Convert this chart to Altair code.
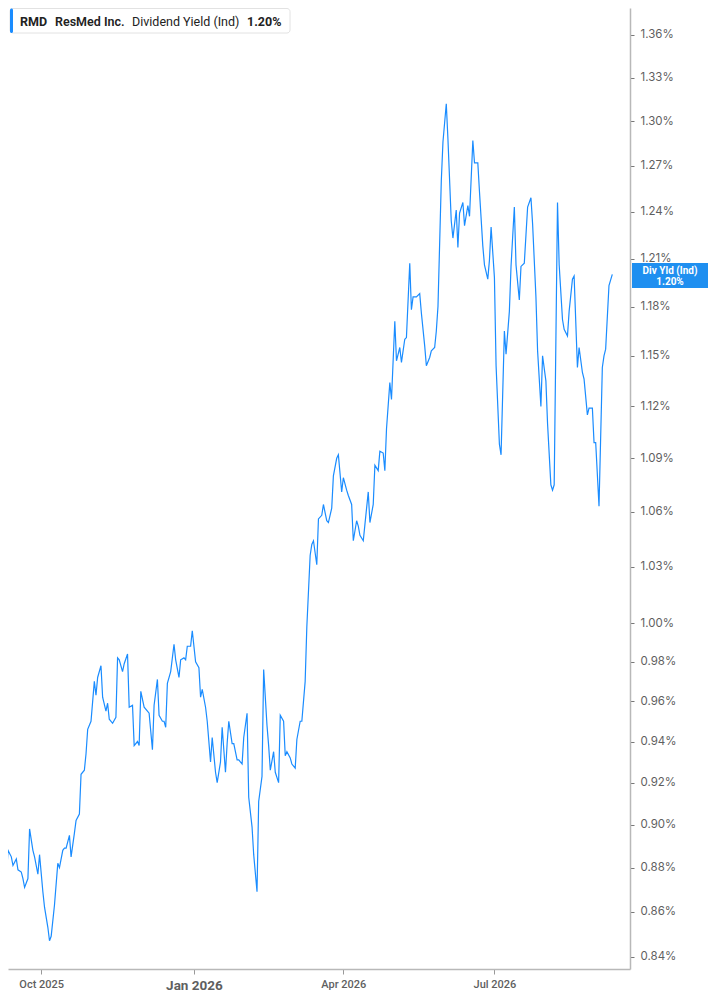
import altair as alt
import pandas as pd

# ---------------- data ----------------
dates = [
    # Sep 2025
    "2025-09-06", "2025-09-08", "2025-09-10", "2025-09-11", "2025-09-13", "2025-09-14",
    "2025-09-16", "2025-09-17", "2025-09-19", "2025-09-20", "2025-09-21", "2025-09-23",
    "2025-09-24", "2025-09-26", "2025-09-27", "2025-09-29", "2025-09-30",
    # Oct 2025
    "2025-10-02", "2025-10-03", "2025-10-05", "2025-10-06", "2025-10-07", "2025-10-09",
    "2025-10-11", "2025-10-12", "2025-10-14", "2025-10-15", "2025-10-16", "2025-10-18",
    "2025-10-19", "2025-10-21", "2025-10-22", "2025-10-24", "2025-10-25", "2025-10-27",
    "2025-10-28", "2025-10-29", "2025-10-31",
    # Nov 2025
    "2025-11-02", "2025-11-03", "2025-11-04", "2025-11-06", "2025-11-07", "2025-11-09",
    "2025-11-10", "2025-11-11", "2025-11-13", "2025-11-15", "2025-11-16", "2025-11-17",
    "2025-11-19", "2025-11-20", "2025-11-22", "2025-11-23", "2025-11-25", "2025-11-26",
    "2025-11-28", "2025-11-29", "2025-11-30",
    # Dec 2025
    "2025-12-02", "2025-12-04", "2025-12-05", "2025-12-07", "2025-12-08", "2025-12-10",
    "2025-12-11", "2025-12-13", "2025-12-14", "2025-12-15", "2025-12-16", "2025-12-18",
    "2025-12-20", "2025-12-21", "2025-12-23", "2025-12-24", "2025-12-26", "2025-12-27",
    "2025-12-28", "2025-12-30", "2025-12-31",
    # Jan 2026
    "2026-01-02", "2026-01-04", "2026-01-05", "2026-01-06", "2026-01-08", "2026-01-09",
    "2026-01-11", "2026-01-12", "2026-01-14", "2026-01-15", "2026-01-17", "2026-01-18",
    "2026-01-20", "2026-01-21", "2026-01-22", "2026-01-24", "2026-01-25", "2026-01-27",
    "2026-01-28", "2026-01-30", "2026-01-31",
    # Feb 2026
    "2026-02-02", "2026-02-03", "2026-02-05", "2026-02-06", "2026-02-08", "2026-02-09",
    "2026-02-11", "2026-02-12", "2026-02-14", "2026-02-15", "2026-02-16", "2026-02-18",
    "2026-02-19", "2026-02-21", "2026-02-22", "2026-02-24", "2026-02-25", "2026-02-26",
    "2026-02-28",
    # Mar 2026
    "2026-03-01", "2026-03-03", "2026-03-04", "2026-03-06", "2026-03-07", "2026-03-09",
    "2026-03-10", "2026-03-12", "2026-03-13", "2026-03-14", "2026-03-16", "2026-03-17",
    "2026-03-19", "2026-03-20", "2026-03-22", "2026-03-23", "2026-03-25", "2026-03-26",
    "2026-03-28", "2026-03-29", "2026-03-31",
    # Apr 2026
    "2026-04-01", "2026-04-03", "2026-04-04", "2026-04-06", "2026-04-07", "2026-04-09",
    "2026-04-10", "2026-04-11", "2026-04-13", "2026-04-14", "2026-04-16", "2026-04-17",
    "2026-04-19", "2026-04-20", "2026-04-22", "2026-04-23", "2026-04-25", "2026-04-26",
    "2026-04-27", "2026-04-29", "2026-04-30",
    # May 2026
    "2026-05-02", "2026-05-03", "2026-05-05", "2026-05-06", "2026-05-08", "2026-05-09",
    "2026-05-11", "2026-05-12", "2026-05-13", "2026-05-15", "2026-05-17", "2026-05-18",
    "2026-05-20", "2026-05-21", "2026-05-23", "2026-05-24", "2026-05-26", "2026-05-27",
    "2026-05-28", "2026-05-30", "2026-05-31",
    # Jun 2026
    "2026-06-02", "2026-06-03", "2026-06-05", "2026-06-06", "2026-06-08", "2026-06-09",
    "2026-06-10", "2026-06-12", "2026-06-13", "2026-06-15", "2026-06-16", "2026-06-18",
    "2026-06-19", "2026-06-21", "2026-06-22", "2026-06-24", "2026-06-25", "2026-06-27",
    "2026-06-28", "2026-06-29",
    # Jul 2026
    "2026-07-01", "2026-07-02", "2026-07-04", "2026-07-05", "2026-07-07", "2026-07-08",
    "2026-07-10", "2026-07-11", "2026-07-13", "2026-07-14", "2026-07-16", "2026-07-17",
    "2026-07-19", "2026-07-20", "2026-07-21", "2026-07-23", "2026-07-24", "2026-07-26",
    "2026-07-27", "2026-07-29", "2026-07-30",
    # Aug 2026
    "2026-08-01", "2026-08-02", "2026-08-04", "2026-08-05", "2026-08-06", "2026-08-08",
    "2026-08-09", "2026-08-11", "2026-08-12", "2026-08-14", "2026-08-15", "2026-08-17",
    "2026-08-18", "2026-08-20", "2026-08-21", "2026-08-23", "2026-08-24", "2026-08-26",
    "2026-08-27", "2026-08-29", "2026-08-30", "2026-08-31",
    # Sep 2026
    "2026-09-02", "2026-09-04", "2026-09-05", "2026-09-06", "2026-09-08", "2026-09-10",
]

yields = [
    # Sep 2025
    0.859, 0.888, 0.875, 0.888, 0.885, 0.881, 0.884, 0.879, 0.878, 0.875, 0.871, 0.875,
    0.898, 0.888, 0.885, 0.877, 0.886,
    # Oct 2025
    0.869, 0.862, 0.853, 0.847, 0.849, 0.863, 0.882, 0.880, 0.888, 0.889, 0.889, 0.895,
    0.885, 0.896, 0.902, 0.905, 0.924, 0.926, 0.934, 0.946, 0.950,
    # Nov 2025
    0.970, 0.963, 0.972, 0.978, 0.962, 0.955, 0.959, 0.951, 0.949, 0.952, 0.982, 0.981,
    0.975, 0.979, 0.984, 0.957, 0.958, 0.938, 0.940, 0.938, 0.965,
    # Dec 2025
    0.957, 0.955, 0.954, 0.936, 0.958, 0.971, 0.953, 0.950, 0.950, 0.947, 0.969, 0.975,
    0.989, 0.981, 0.972, 0.981, 0.982, 0.981, 0.988, 0.988, 0.996,
    # Jan 2026
    0.980, 0.977, 0.962, 0.966, 0.957, 0.950, 0.930, 0.942, 0.925, 0.920, 0.930, 0.947,
    0.925, 0.939, 0.950, 0.939, 0.939, 0.931, 0.931, 0.929, 0.942,
    # Feb 2026
    0.954, 0.913, 0.899, 0.886, 0.869, 0.911, 0.923, 0.976, 0.948, 0.938, 0.926, 0.935,
    0.925, 0.920, 0.953, 0.950, 0.933, 0.935, 0.932,
    # Mar 2026
    0.929, 0.927, 0.941, 0.950, 0.950, 0.970, 0.998, 1.036, 1.042, 1.044, 1.031, 1.056,
    1.058, 1.064, 1.055, 1.054, 1.062, 1.080, 1.090, 1.092, 1.071,
    # Apr 2026
    1.079, 1.072, 1.069, 1.064, 1.044, 1.055, 1.052, 1.047, 1.044, 1.053, 1.071, 1.054,
    1.064, 1.086, 1.083, 1.094, 1.093, 1.083, 1.107, 1.134, 1.124,
    # May 2026
    1.171, 1.147, 1.155, 1.146, 1.160, 1.161, 1.207, 1.178, 1.186, 1.186, 1.188, 1.176,
    1.156, 1.144, 1.149, 1.153, 1.155, 1.165, 1.180, 1.260, 1.286,
    # Jun 2026
    1.312, 1.288, 1.234, 1.223, 1.241, 1.217, 1.239, 1.246, 1.231, 1.244, 1.237, 1.287,
    1.272, 1.272, 1.253, 1.218, 1.206, 1.197, 1.209, 1.230,
    # Jul 2026
    1.198, 1.144, 1.098, 1.092, 1.165, 1.151, 1.177, 1.205, 1.243, 1.206, 1.184, 1.205,
    1.207, 1.225, 1.243, 1.249, 1.232, 1.186, 1.153, 1.120, 1.150,
    # Aug 2026
    1.135, 1.110, 1.075, 1.072, 1.075, 1.246, 1.206, 1.172, 1.166, 1.162, 1.177, 1.197,
    1.199, 1.143, 1.155, 1.140, 1.136, 1.115, 1.119, 1.119, 1.099, 1.099,
    # Sep 2026
    1.063, 1.143, 1.150, 1.154, 1.193, 1.200,
]

y_ticks = [0.84, 0.86, 0.88, 0.90, 0.92, 0.94, 0.96, 0.98, 1.00, 1.03, 1.06, 1.09,
           1.12, 1.15, 1.18, 1.21, 1.24, 1.27, 1.30, 1.33, 1.36]
x_ticks = [(2025, 10), (2026, 1), (2026, 4), (2026, 7)]

ticker = ["RMD"]
company = ["ResMed Inc."]
metric = ["Dividend Yield (Ind)"]
last_value = ["1.20%"]
tag_title = ["Div Yld (Ind)"]

# ---------------- chart ----------------
W, H = 622, 961
LINE = "#1a8cff"
TAG = "#1f8ff0"
AXIS_GRAY = "#b8b8b8"
LABEL_GRAY = "#5f5f5f"
FONT = "Roboto"

df = pd.DataFrame({"date": dates, "yield": yields})

x_scale = alt.Scale(
    type="utc",
    domain=[alt.DateTime(year=2025, month=9, date=11, utc=True),
            alt.DateTime(year=2026, month=9, date=20, hours=16, utc=True)],
)
y_scale = alt.Scale(type="log", domain=[0.8346, 1.3793], nice=False, zero=False)

x_axis = alt.Axis(
    values=[alt.DateTime(year=yy, month=mm, date=1, utc=True) for yy, mm in x_ticks],
    labelExpr="utcFormat(datum.value, '%b %Y')",
    grid=False,
    domainColor=AXIS_GRAY,
    domainWidth=1.5,
    tickColor="#999999",
    tickSize=5,
    labelColor=LABEL_GRAY,
    labelFont=FONT,
    labelFontSize={"condition": {"test": "utcmonth(datum.value) == 0", "value": 13.5}, "value": 11},
    labelFontWeight={"condition": {"test": "utcmonth(datum.value) == 0", "value": "bold"}, "value": 500},
    labelPadding=4,
    labelFlush=False,
    title=None,
)
y_axis = alt.Axis(
    orient="right",
    values=y_ticks,
    labelExpr="format(datum.value, '.2f') + '%'",
    grid=False,
    domainColor=AXIS_GRAY,
    domainWidth=1.5,
    tickColor="#777777",
    tickSize=4,
    labelColor=LABEL_GRAY,
    labelFont="Inter",
    labelFontSize=11.5,
    labelPadding=6,
    title=None,
)

line = alt.Chart(df).mark_line(color=LINE, strokeWidth=1.2, clip=True).encode(
    x=alt.X("date:T", scale=x_scale, axis=x_axis),
    y=alt.Y("yield:Q", scale=y_scale, axis=y_axis),
)

# header legend box
box = alt.Chart(pd.DataFrame({"k": [0]})).mark_rect(
    fill="white", stroke="#e2e2e2", strokeWidth=1, cornerRadius=3
).encode(x=alt.value(2), x2=alt.value(282), y=alt.value(0.5), y2=alt.value(25))
bar = alt.Chart(pd.DataFrame({"k": [0]})).mark_rect(
    fill=LINE, cornerRadius=1.5
).encode(x=alt.value(2), x2=alt.value(5), y=alt.value(0.5), y2=alt.value(25))


def label(txt, x, weight, size=12.5, color="#222222", y=13.5):
    return alt.Chart(pd.DataFrame({"t": txt})).mark_text(
        align="left", baseline="middle", font=FONT, fontSize=size,
        fontWeight=weight, color=color,
    ).encode(text="t:N", x=alt.value(x), y=alt.value(y))


h1 = label(ticker, 12, 700)
h2 = label(company, 47, 600)
h3 = label(metric, 124, 400)
h4 = label(last_value, 239, 700)

# last-value tag on the right axis
tag = alt.Chart(pd.DataFrame({"k": [0]})).mark_rect(fill=TAG).encode(
    x=alt.value(624), x2=alt.value(700), y=alt.value(255), y2=alt.value(280)
)
tag_t1 = alt.Chart(pd.DataFrame({"t": tag_title})).mark_text(
    align="center", baseline="middle", font=FONT, fontSize=10, fontWeight=700, color="white"
).encode(text="t:N", x=alt.value(662), y=alt.value(262.5))
tag_t2 = alt.Chart(pd.DataFrame({"t": last_value})).mark_text(
    align="center", baseline="middle", font=FONT, fontSize=10, fontWeight=700, color="white"
).encode(text="t:N", x=alt.value(662), y=alt.value(273.5))

chart = alt.layer(line, box, bar, h1, h2, h3, h4, tag, tag_t1, tag_t2).properties(
    width=W, height=H, padding=0, background="white"
).configure_view(stroke=None)

chart.save("out.html", embed_options={"renderer": "svg", "actions": False})
